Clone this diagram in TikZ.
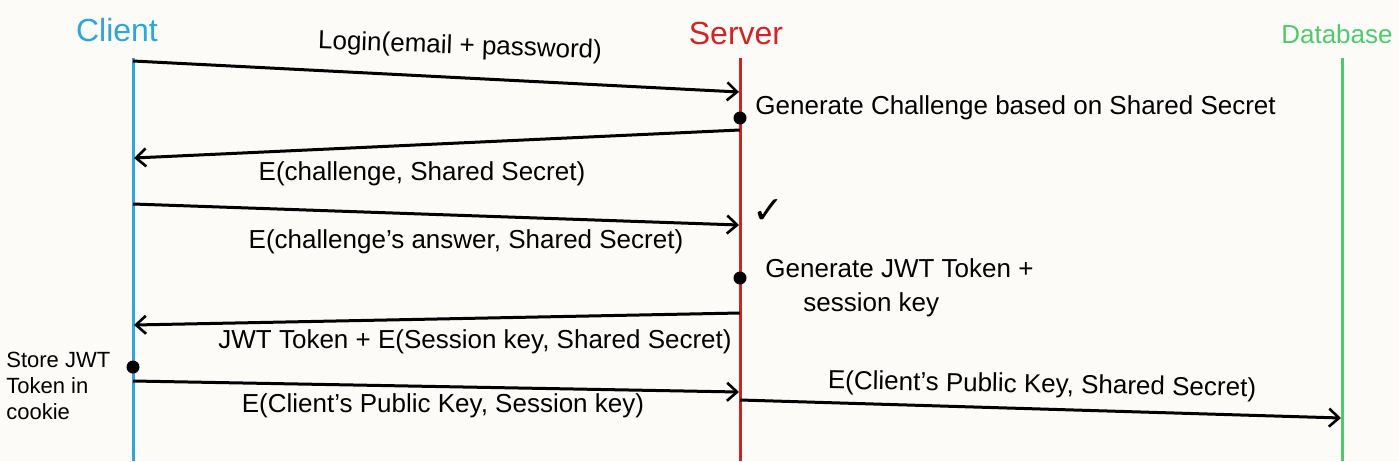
\documentclass[tikz,border=0pt]{standalone}
\usepackage{fontspec}
\setmainfont{Liberation Sans}
\newfontfamily\symfont{DejaVu Sans}
\usetikzlibrary{arrows.meta}
\definecolor{clientc}{HTML}{2AA7E0}
\definecolor{serverc}{HTML}{D02424}
\definecolor{dbc}{HTML}{4CCB6A}
\definecolor{bgc}{HTML}{FDFBF8}
\begin{document}
\begin{tikzpicture}[x=0.5pt,y=-0.5pt,
  lifeline/.style={line width=1.5pt},
  msg/.style={line width=1.5pt,-{Straight Barb[length=5pt,width=9pt,line width=1.3pt]}},
  lbl/.style={font=\fontsize{13}{15}\selectfont,inner sep=0pt},
  head/.style={font=\fontsize{16}{18}\selectfont,inner sep=0pt},
  evdot/.style={circle,fill=black,inner sep=0pt,minimum size=6.5pt}]
\fill[bgc] (0,0) rectangle (1399,461);
\useasboundingbox (0,0) rectangle (1399,461);

% heads
\node[head,text=clientc] (client) at (117,30) {Client};
\node[head,text=serverc] (server) at (736,33) {Server};
\node[head,text=dbc,font=\fontsize{13}{15}\selectfont,anchor=east] (db) at (1393,34) {Database};

% lifelines
\coordinate (ctop) at (133,58); \coordinate (cbot) at (133,461);
\coordinate (stop) at (740,58); \coordinate (sbot) at (740,461);
\coordinate (dtop) at (1342,58); \coordinate (dbot) at (1342,461);
\draw[lifeline,clientc] (ctop) -- (cbot);
\draw[lifeline,serverc] (stop) -- (sbot);
\draw[lifeline,dbc] (dtop) -- (dbot);

% message 1
\coordinate (m1a) at (133,61); \coordinate (m1b) at (739,92);
\draw[msg] (m1a) -- (m1b);
\node[lbl,rotate=-2] (l1) at (460,47) {Login(email + password)};

% event 1
\node[evdot] (e1) at (740,118) {};
\node[lbl,anchor=west] (t1) at (755,108) {Generate Challenge based on Shared Secret};

% message 2
\coordinate (m2a) at (740,130); \coordinate (m2b) at (134,158);
\draw[msg] (m2a) -- (m2b);
\node[lbl] (l2) at (422,174) {E(challenge, Shared Secret)};

% message 3
\coordinate (m3a) at (133,204); \coordinate (m3b) at (739,225);
\draw[msg] (m3a) -- (m3b);
\node[lbl] (l3) at (466,242) {E(challenge's answer, Shared Secret)};
\node[font=\symfont\fontsize{19}{19}\selectfont,inner sep=0pt] (chk) at (768,212) {✓};

% event 2
\node[evdot] (e2) at (740,278) {};
\node[lbl,anchor=north west,align=left] (t2) at (765,258) {Generate JWT Token +\\[2pt]\hspace*{19pt}session key};

% message 4
\coordinate (m4a) at (740,313); \coordinate (m4b) at (134,325);
\draw[msg] (m4a) -- (m4b);
\node[lbl] (l4) at (475,342) {JWT Token + E(Session key, Shared Secret)};

% event 3
\node[evdot] (e3) at (133,367) {};
\node[font=\fontsize{11}{13}\selectfont,inner sep=0pt,anchor=north west,align=left] (t3) at (6,352) {Store JWT\\Token in\\cookie};

% message 5
\coordinate (m5a) at (133,381); \coordinate (m5b) at (739,392);
\draw[msg] (m5a) -- (m5b);
\node[lbl] (l5) at (443,406) {E(Client's Public Key, Session key)};

% message 6
\coordinate (m6a) at (740,400); \coordinate (m6b) at (1341,418);
\draw[msg] (m6a) -- (m6b);
\node[lbl,rotate=-1] (l6) at (1042,386) {E(Client's Public Key, Shared Secret)};
\end{tikzpicture}
\end{document}
